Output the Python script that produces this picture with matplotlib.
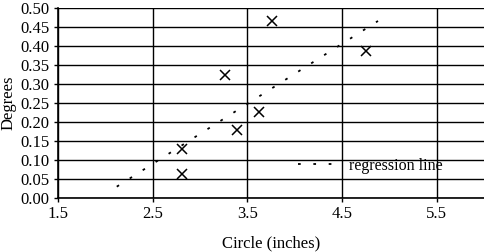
import numpy as np
import matplotlib
matplotlib.use("Agg")
import matplotlib.pyplot as plt

plt.rcParams['font.family'] = ['Liberation Serif', 'DejaVu Serif']

# measured points
circle = [3.76, 3.26, 4.75, 3.62, 3.39, 2.81, 2.81]
degrees = [0.466, 0.324, 0.387, 0.226, 0.180, 0.130, 0.063]

# regression line end points
reg_x = [2.12, 4.88]
reg_y = [0.030, 0.466]

xticks = [1.5, 2.5, 3.5, 4.5, 5.5]
yticks = np.arange(0, 0.501, 0.05)

fig = plt.figure(figsize=(4.84, 2.52), dpi=100)
ax = fig.add_axes([0.12, 0.214, 0.88, 0.754])

ax.plot(circle, degrees, 'x', color='black', ms=7, mew=1.1, label='_nolegend_')
ax.plot(reg_x, reg_y, color='black', lw=1.3, ls=(0, (1.5, 7)), label='regression line')

ax.set_xlim(1.5, 6.0)
ax.set_ylim(0, 0.5)
ax.set_xticks(xticks)
ax.set_xticklabels([str(v) for v in xticks])
ax.set_yticks(yticks)
ax.set_yticklabels(['%.2f' % v for v in yticks])
ax.grid(True, color='black', lw=1.0)
ax.set_axisbelow(True)
for s in ['top', 'right']:
    ax.spines[s].set_visible(False)
for s in ['left', 'bottom']:
    ax.spines[s].set_linewidth(1.2)
ax.tick_params(axis='both', labelsize=12, length=3, width=1, color='black', pad=3)
ax.tick_params(axis='x', pad=3)

ax.set_xlabel('Circle (inches)', fontsize=12, labelpad=9)
ax.set_ylabel('Degrees', fontsize=12, labelpad=3)

ax.legend(loc='center left', bbox_to_anchor=(0.545, 0.17), frameon=False,
          fontsize=11.5, handlelength=2.4, handletextpad=0.8, borderpad=0)

fig.savefig('out.png', dpi=100)
